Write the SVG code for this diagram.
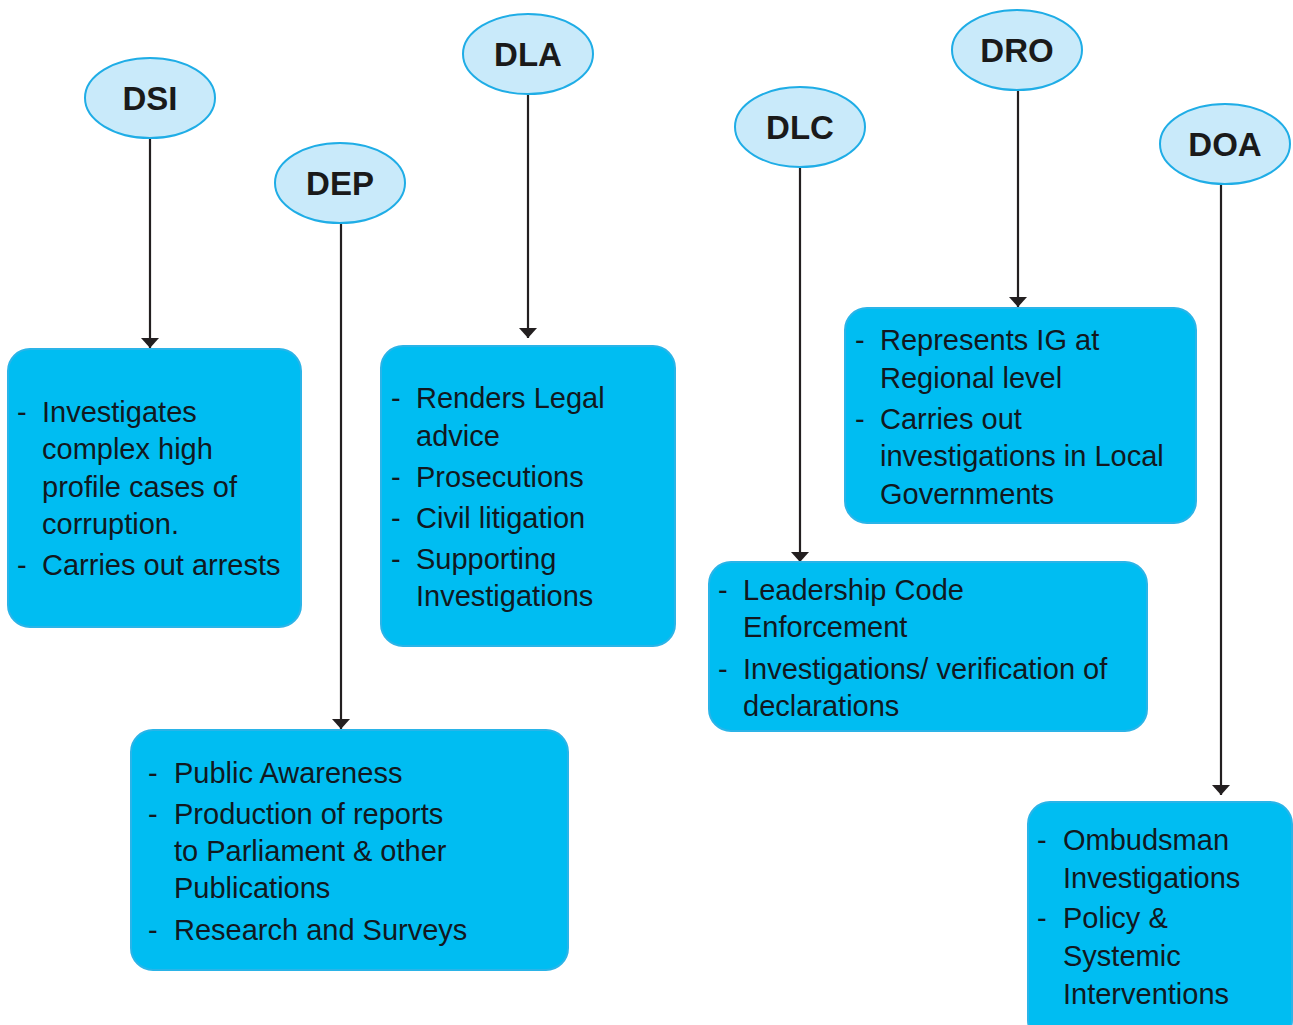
<svg xmlns="http://www.w3.org/2000/svg" width="1293" height="1025" viewBox="0 0 1293 1025">
<defs>
<marker id="arr" viewBox="0 0 10 18" refX="10" refY="9" markerWidth="10" markerHeight="18" markerUnits="userSpaceOnUse" orient="auto">
<path d="M0,0 L10,9 L0,18 z" fill="#231F20"/>
</marker>
<style>
.oval{fill:#C9EAFA;stroke:#1FADE6;stroke-width:2}
.olbl{font-family:"Liberation Sans",Arial,sans-serif;font-weight:bold;font-size:33px;fill:#1A1A1A;text-anchor:middle}
.box{fill:#00BDF2;stroke:#2AB4E8;stroke-width:2}
.t{font-family:"Liberation Sans",Arial,sans-serif;font-size:29px;fill:#111820}
.con{stroke:#231F20;stroke-width:2.2;fill:none}
</style>
</defs>
<rect width="1293" height="1025" fill="#FFFFFF"/>
<g id="connectors">
<line class="con" x1="150" y1="139" x2="150" y2="348" marker-end="url(#arr)"/>
<line class="con" x1="341" y1="224" x2="341" y2="729" marker-end="url(#arr)"/>
<line class="con" x1="528" y1="95" x2="528" y2="338" marker-end="url(#arr)"/>
<line class="con" x1="800" y1="168" x2="800" y2="562" marker-end="url(#arr)"/>
<line class="con" x1="1018" y1="91" x2="1018" y2="307" marker-end="url(#arr)"/>
<line class="con" x1="1221" y1="185" x2="1221" y2="795" marker-end="url(#arr)"/>
</g>
<g id="DSI">
<ellipse class="oval" cx="150" cy="98" rx="65" ry="40"/>
<text class="olbl" x="150" y="110">DSI</text>
</g>
<g id="DEP">
<ellipse class="oval" cx="340" cy="183" rx="65" ry="40"/>
<text class="olbl" x="340" y="195">DEP</text>
</g>
<g id="DLA">
<ellipse class="oval" cx="528" cy="54" rx="65" ry="40"/>
<text class="olbl" x="528" y="66">DLA</text>
</g>
<g id="DLC">
<ellipse class="oval" cx="800" cy="127" rx="65" ry="40"/>
<text class="olbl" x="800" y="139">DLC</text>
</g>
<g id="DRO">
<ellipse class="oval" cx="1017" cy="50" rx="65" ry="40"/>
<text class="olbl" x="1017" y="62">DRO</text>
</g>
<g id="DOA">
<ellipse class="oval" cx="1225" cy="144" rx="65" ry="40"/>
<text class="olbl" x="1225" y="156">DOA</text>
</g>
<g id="DSI-box">
<rect class="box" x="8" y="349" width="293" height="278" rx="22"/>
<text class="t" x="17" y="422">-</text><text class="t" x="42" y="422">Investigates</text>
<text class="t" x="42" y="459">complex high</text>
<text class="t" x="42" y="497">profile cases of</text>
<text class="t" x="42" y="534">corruption.</text>
<text class="t" x="17" y="575">-</text><text class="t" x="42" y="575">Carries out arrests</text>
</g>
<g id="DLA-box">
<rect class="box" x="381" y="346" width="294" height="300" rx="22"/>
<text class="t" x="391" y="408">-</text><text class="t" x="416" y="408">Renders Legal</text>
<text class="t" x="416" y="446">advice</text>
<text class="t" x="391" y="487">-</text><text class="t" x="416" y="487">Prosecutions</text>
<text class="t" x="391" y="528">-</text><text class="t" x="416" y="528">Civil litigation</text>
<text class="t" x="391" y="569">-</text><text class="t" x="416" y="569">Supporting</text>
<text class="t" x="416" y="606">Investigations</text>
</g>
<g id="DRO-box">
<rect class="box" x="845" y="308" width="351" height="215" rx="22"/>
<text class="t" x="855" y="350">-</text><text class="t" x="880" y="350">Represents IG at</text>
<text class="t" x="880" y="388">Regional level</text>
<text class="t" x="855" y="429">-</text><text class="t" x="880" y="429">Carries out</text>
<text class="t" x="880" y="466">investigations in Local</text>
<text class="t" x="880" y="504">Governments</text>
</g>
<g id="DLC-box">
<rect class="box" x="709" y="562" width="438" height="169" rx="22"/>
<text class="t" x="718" y="600">-</text><text class="t" x="743" y="600">Leadership Code</text>
<text class="t" x="743" y="637">Enforcement</text>
<text class="t" x="718" y="679">-</text><text class="t" x="743" y="679">Investigations/ verification of</text>
<text class="t" x="743" y="716">declarations</text>
</g>
<g id="DEP-box">
<rect class="box" x="131" y="730" width="437" height="240" rx="22"/>
<text class="t" x="148" y="783">-</text><text class="t" x="174" y="783">Public Awareness</text>
<text class="t" x="148" y="824">-</text><text class="t" x="174" y="824">Production of reports</text>
<text class="t" x="174" y="861">to Parliament &amp; other</text>
<text class="t" x="174" y="898">Publications</text>
<text class="t" x="148" y="940">-</text><text class="t" x="174" y="940">Research and Surveys</text>
</g>
<g id="DOA-box">
<rect class="box" x="1028" y="802" width="264" height="240" rx="22"/>
<text class="t" x="1037" y="850">-</text><text class="t" x="1063" y="850">Ombudsman</text>
<text class="t" x="1063" y="888">Investigations</text>
<text class="t" x="1037" y="928">-</text><text class="t" x="1063" y="928">Policy &amp;</text>
<text class="t" x="1063" y="966">Systemic</text>
<text class="t" x="1063" y="1004">Interventions</text>
</g>
</svg>
